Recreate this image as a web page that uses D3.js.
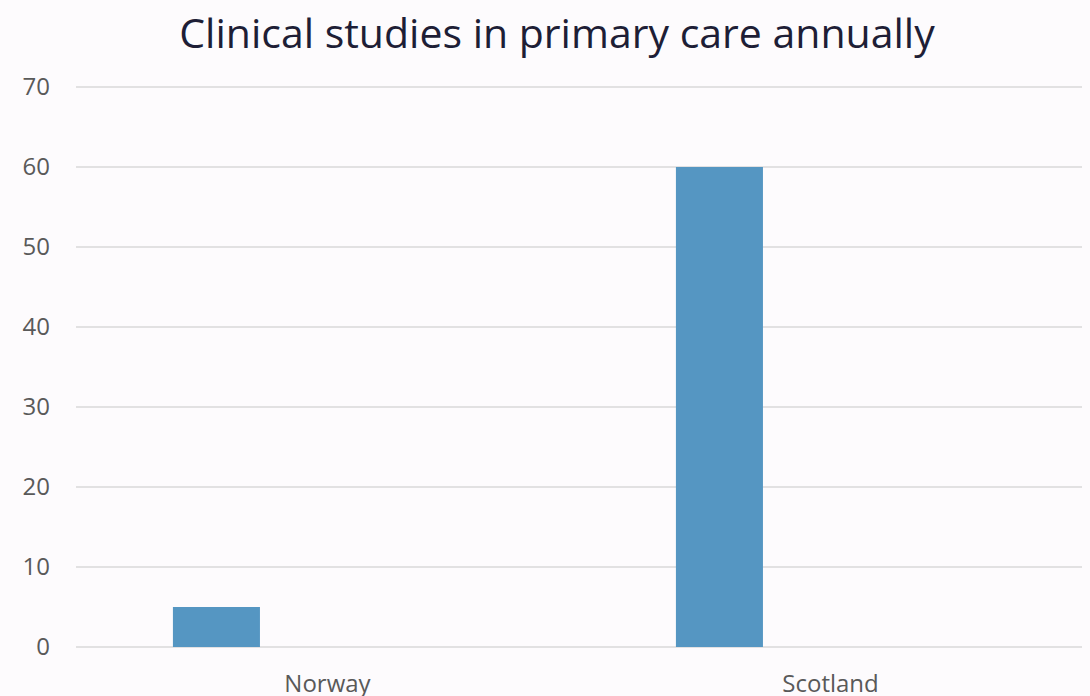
<!DOCTYPE html>
<html><head><meta charset="utf-8">
<script src="https://cdn.jsdelivr.net/npm/d3@7"></script>
<style>
html,body{margin:0;padding:0;background:#fdfbfd;}
svg{display:block;font-family:"Open Sans","Noto Sans",sans-serif;}
</style></head>
<body><svg id="c" width="1090" height="696"></svg>
<script>
const categories = ["Norway", "Scotland"];
const seriesNames = ["Clinical studies"];
const values = [5, 60];
const yTicks = [0, 10, 20, 30, 40, 50, 60, 70];
const title = "Clinical studies in primary care annually";

const W = 1090, H = 696;
const m = {left: 76, right: 8, top: 87, bottom: 49};
const svg = d3.select("#c");
svg.append("rect").attr("width", W).attr("height", H).attr("fill", "#fdfbfd");

const x0 = d3.scaleBand().domain(categories).range([m.left, W - m.right]).padding(0);
const x1 = d3.scaleBand().domain(seriesNames).range([0, x0.bandwidth()])
  .paddingOuter(2.39).align(0.233);
const y = d3.scaleLinear().domain([0, 70]).range([H - m.bottom, m.top]);

// gridlines
svg.append("g").selectAll("line").data(yTicks).join("line")
  .attr("x1", m.left).attr("x2", W - m.right)
  .attr("y1", d => y(d)).attr("y2", d => y(d))
  .attr("stroke", "#d9d9d9").attr("stroke-width", 1.3);

// y axis labels
const ya = svg.append("g").attr("transform", `translate(${m.left - 26},0)`)
  .call(d3.axisLeft(y).tickValues(yTicks).tickSize(0).tickPadding(0));
ya.select(".domain").remove();
ya.attr("font-size", 24).attr("font-family", null);
ya.selectAll("text").attr("font-size", 24).attr("fill", "#595959");

// bars
svg.append("g").selectAll("rect").data(categories.map((c, i) => ({c, v: values[i], s: seriesNames[0]})))
  .join("rect")
  .attr("x", d => x0(d.c) + x1(d.s))
  .attr("width", x1.bandwidth())
  .attr("y", d => y(d.v))
  .attr("height", d => y(0) - y(d.v))
  .attr("fill", "#5596c2");

// x axis labels
const xa = svg.append("g").attr("transform", `translate(0,${H - m.bottom})`)
  .call(d3.axisBottom(x0).tickSize(0).tickPadding(28));
xa.select(".domain").remove();
xa.attr("font-size", 24).attr("font-family", null);
xa.selectAll("text").attr("font-size", 24).attr("fill", "#595959");

svg.append("text").attr("x", 557).attr("y", 48).attr("text-anchor", "middle")
  .attr("font-size", 41).attr("fill", "#1e1e36").text(title);
</script></body></html>
